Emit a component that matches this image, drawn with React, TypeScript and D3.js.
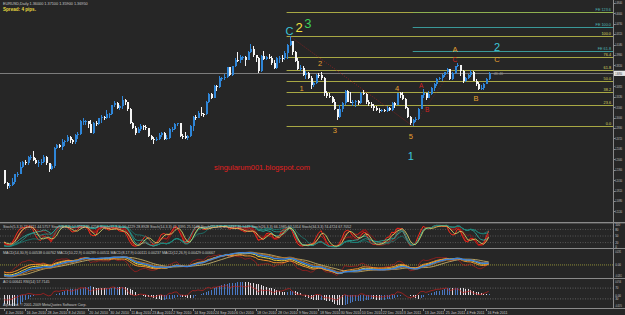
import React, { useEffect } from "react";
import * as d3 from "d3";

// ---------------- data (EURUSD daily, price = 1 + v/10000) ----------------
// warm-up history (late Apr - 3 Jun 2010), used only for indicators
const warmHighs = [3440,3380,3260,3290,3320,3320,3210,3010,2990,2790,3094,2840,2730,2680,2560,2470,2410,2460,2560,2670,2570,2440,2380,2430,2380,2330,2300,2290,2260];
const warmLows = [3330,3150,3110,3160,3220,3160,2970,2850,2523,2620,2740,2630,2600,2540,2340,2310,2150,2230,2360,2480,2330,2300,2170,2200,2240,2230,2110,2180,2150];
const warmCloses = [3375,3170,3180,3240,3295,3205,2995,2855,2630,2753,2782,2677,2637,2560,2358,2385,2225,2382,2537,2570,2341,2359,2209,2370,2270,2280,2224,2250,2170];

// visible bars: 4 Jun 2010 .. 18 Feb 2011
const opens = [2170,1968,1925,1936,1985,2105,2114,2226,2304,2284,
2384,2386,2335,2291,2304,2307,2383,2281,2195,2234,
2516,2566,2541,2621,2626,2690,2640,2609,2730,2748,
2939,2939,2945,2897,2759,2918,2903,2985,3008,2999,
3050,3050,3194,3227,3146,3183,3279,3237,3142,2918,
2837,2754,2812,2867,2845,2831,2711,2670,2649,2661,
2724,2756,2660,2680,2820,2820,2895,2908,2717,2710,
2679,2705,2860,3015,2998,3075,3054,3051,3239,3374,
3311,3492,3488,3615,3628,3633,3791,3666,3803,3910,
3897,3945,3945,3908,4028,4085,3977,3941,3733,3964,
3914,3946,3938,3864,3776,3932,3935,3933,4017,4143,
4197,4033,3887,3759,3786,3672,3697,3620,3510,3537,
3674,3671,3616,3378,3338,3328,3240,3135,3003,3133,
3233,3415,3252,3236,3242,3253,3226,3387,3377,3248,
3210,3184,3144,3125,3105,3118,3104,3153,3112,3222,
3191,3379,3355,3296,3153,3001,2911,2966,2977,3142,
3357,3383,3308,3376,3467,3523,3612,3622,3665,3710,
3766,3603,3697,3804,3819,3731,3581,3615,3666,3723,
3581,3535,3452,3466,3529,3600];
const highs = [2180,1980,1965,2046,2110,2150,2300,2320,2335,2390,
2410,2469,2365,2330,2355,2410,2390,2290,2270,2530,
2590,2590,2660,2640,2720,2710,2670,2740,2770,2955,
2990,2960,2950,2960,2930,2950,3000,3040,3030,3120,
3070,3200,3260,3250,3200,3333,3290,3250,3150,2930,
2870,2850,2900,2890,2890,2840,2730,2690,2700,2750,
2770,2770,2720,2840,2850,2920,2920,2910,2740,2770,
2720,2880,3030,3040,3100,3160,3070,3260,3390,3390,
3510,3510,3650,3640,3680,3800,3800,3810,3930,4030,
3990,3970,3960,4050,4158,4120,3990,3950,3990,4050,
3960,4000,3960,3900,3950,3960,3990,4040,4160,4282,
4210,4050,3930,3820,3810,3730,3720,3650,3560,3690,
3700,3720,3630,3410,3380,3340,3290,3140,3190,3240,
3430,3440,3400,3270,3280,3270,3400,3440,3390,3270,
3250,3210,3180,3150,3140,3130,3180,3170,3240,3240,
3390,3400,3400,3310,3160,3030,2970,3010,3150,3360,
3450,3390,3420,3480,3540,3620,3640,3690,3720,3780,
3770,3710,3810,3862,3830,3740,3630,3690,3740,3730,
3610,3560,3510,3550,3620,3710];
const lows = [1961,1876,1900,1930,1960,2070,2110,2210,2250,2250,
2330,2320,2270,2215,2250,2290,2260,2150,2180,2210,
2500,2520,2490,2560,2610,2600,2580,2590,2660,2730,
2880,2880,2840,2750,2740,2860,2880,2920,2960,2980,
2990,3040,3170,3130,3120,3140,3200,3110,2900,2820,
2730,2750,2790,2810,2810,2700,2640,2590,2630,2640,
2690,2650,2640,2670,2780,2800,2870,2700,2660,2670,
2650,2700,2790,2960,2990,3030,3010,3040,3230,3290,
3300,3420,3460,3580,3590,3620,3650,3650,3790,3880,
3850,3900,3810,3900,4010,3950,3880,3700,3720,3900,
3900,3920,3830,3760,3770,3850,3880,3900,3920,4130,
3990,3870,3740,3730,3660,3610,3600,3450,3480,3520,
3620,3590,3340,3310,3310,3230,3120,2969,2990,3090,
3190,3240,3230,3180,3170,3200,3220,3350,3220,3180,
3150,3100,3110,3070,3080,3090,3090,3100,3100,3150,
3190,3300,3270,3130,2990,2880,2867,2930,2960,3130,
3300,3280,3300,3360,3420,3490,3590,3580,3640,3680,
3590,3590,3690,3790,3660,3550,3560,3600,3640,3570,
3500,3440,3429,3440,3520,3590];
const closes = [1968,1925,1936,1985,2105,2114,2226,2304,2284,2384,
2386,2335,2291,2304,2307,2383,2281,2195,2234,2516,
2566,2541,2621,2626,2690,2640,2609,2730,2748,2939,
2939,2945,2897,2759,2918,2903,2985,3008,2999,3050,
3050,3194,3227,3146,3183,3279,3237,3142,2918,2837,
2754,2812,2867,2845,2831,2711,2670,2649,2661,2724,
2756,2660,2680,2820,2820,2895,2908,2717,2710,2679,
2705,2860,3015,2998,3075,3054,3051,3239,3374,3311,
3492,3488,3615,3628,3633,3791,3666,3803,3910,3897,
3945,3945,3908,4028,4085,3977,3941,3733,3964,3914,
3946,3938,3864,3776,3932,3935,3933,4017,4143,4197,
4033,3887,3759,3786,3672,3697,3620,3510,3537,3674,
3671,3616,3378,3338,3328,3240,3135,3003,3133,3233,
3415,3252,3236,3242,3253,3226,3387,3377,3248,3210,
3184,3144,3125,3105,3118,3104,3153,3112,3222,3191,
3379,3355,3296,3153,3001,2911,2966,2977,3142,3357,
3383,3308,3376,3467,3523,3612,3622,3665,3710,3766,
3603,3697,3804,3819,3731,3581,3615,3666,3723,3581,
3535,3452,3466,3529,3600,3695];

const dateLabels = ["4 Jun 2010","16 Jun 2010","28 Jun 2010","8 Jul 2010","20 Jul 2010","30 Jul 2010","11 Aug 2010","23 Aug 2010","2 Sep 2010","14 Sep 2010","24 Sep 2010","6 Oct 2010","18 Oct 2010","28 Oct 2010","9 Nov 2010","18 Nov 2010","30 Nov 2010","10 Dec 2010","22 Dec 2010","3 Jan 2011","13 Jan 2011","25 Jan 2011","4 Feb 2011","16 Feb 2011"];
const dateBars = [0,8,16,24,32,40,48,56,64,72,80,88,96,104,112,120,128,136,144,152,160,168,176,184];

const priceTicks = [1.4804,1.4640,1.4476,1.4312,1.4148,1.3984,1.3820,1.3492,1.3328,1.3164,1.3000,1.2836,1.2672,1.2508,1.2344,1.2180,1.2016,1.1852,1.1688,1.1524];

// Fibonacci retracement anchors (bar index) and levels
const fibHighBar = 109;
const fibLowBar = 156;
const fibLevels = [0, 23.6, 38.2, 50, 61.8, 76.4, 100];
// Fibonacci expansion: start, A, B bars and levels
const feStartBar = 156, feABar = 173, feBBar = 182;
const feLevels = [61.8, 100, 123.6];

// Elliott wave labels
const waveTexts = ["C","2","3","2","1","3","4","5","A","B","C","A","B","C","2","1"];
const waveBars = [109,112.6,116,120.6,113.6,126.3,150,155.3,159.2,161.5,172.1,172.1,180.2,188.2,188.2,155.3];
const wavePrices = [1.4305,1.4343,1.4410,1.3809,1.3417,1.2757,1.3417,1.2663,1.3464,1.3087,1.3872,1.4029,1.3260,1.3872,1.4050,1.2333];
const waveDegrees = ["cycle","primary","major","minor","minor","minor","minor","minor","minute","minute","minute","minor","minor","minor","interm","interm"];

// ---------------- styles ----------------
const BG = "#262626";
const AXIS = "#8a8a8a";
const TXT = "#c8c8c8";
const BULL = "#2f86d8";
const BEAR = "#f4f4f4";
const FIBC = "#a8a844";
const FEC = "#3a9898";
const FONT = "'Liberation Sans', Arial, sans-serif";
const waveStyle: Record<string, { c: string; s: number }> = {
  cycle: { c: "#3cc7d8", s: 11 },
  primary: { c: "#f2e040", s: 13 },
  major: { c: "#3cd05a", s: 13 },
  interm: { c: "#3cc7d8", s: 11 },
  minor: { c: "#e6a030", s: 7.5 },
  minute: { c: "#d42222", s: 6.5 },
};

// ---------------- helpers ----------------
const P = (v: number) => 1 + v / 10000;
function sma(a: number[], n: number) {
  return a.map((_, i) => {
    const s = Math.max(0, i - n + 1);
    let t = 0;
    for (let k = s; k <= i; k++) t += a[k];
    return t / (i - s + 1);
  });
}
function ema(a: number[], n: number) {
  const k = 2 / (n + 1);
  const out: number[] = [];
  a.forEach((v, i) => out.push(i === 0 ? v : out[i - 1] + k * (v - out[i - 1])));
  return out;
}
function stoch(h: number[], l: number[], c: number[], n: number, slow: number) {
  const raw = c.map((v, i) => {
    const s = Math.max(0, i - n + 1);
    const hh = d3.max(h.slice(s, i + 1)) as number;
    const ll = d3.min(l.slice(s, i + 1)) as number;
    return hh === ll ? 50 : ((v - ll) / (hh - ll)) * 100;
  });
  return sma(raw, slow);
}
function rsi(c: number[], n: number) {
  let ag = 0, al = 0;
  const out = [50];
  for (let i = 1; i < c.length; i++) {
    const ch = c[i] - c[i - 1];
    const g = Math.max(ch, 0), lo = Math.max(-ch, 0);
    const m = Math.min(i, n);
    ag = (ag * (m - 1) + g) / m;
    al = (al * (m - 1) + lo) / m;
    out.push(al === 0 ? 100 : 100 - 100 / (1 + ag / al));
  }
  return out;
}

// ---------------- computations ----------------
const N = closes.length;
const W0 = warmCloses.length;
const allH = [...warmHighs, ...highs].map(P);
const allL = [...warmLows, ...lows].map(P);
const allC = [...warmCloses, ...closes].map(P);
const cut = (a: number[]) => a.slice(W0);

const stochSpecs = [
  { n: 5, c: "#ff2a1a", w: 1 },
  { n: 8, c: "#d81f1a", w: 0.8 },
  { n: 11, c: "#b01818", w: 0.8 },
  { n: 14, c: "#8c1414", w: 0.8 },
  { n: 21, c: "#2fb6a6", w: 0.8 },
  { n: 26, c: "#239a8e", w: 0.8 },
  { n: 34, c: "#1b7c74", w: 0.8 },
];
const stochLines = stochSpecs.map((s) => cut(stoch(allH, allL, allC, s.n, 3)));
const stochD = sma(stochLines[0], 3);

const macdSpecs = [
  { f: 14, s: 30, c: "#b0702a", w: 1 },
  { f: 10, s: 22, c: "#e8d040", w: 1 },
  { f: 8, s: 17, c: "#f0902a", w: 1 },
  { f: 12, s: 26, c: "#3a82dc", w: 1.4 },
];
const macdLines = macdSpecs.map((m) => {
  const ef = ema(allC, m.f), es = ema(allC, m.s);
  return cut(ef.map((v, i) => v - es[i]));
});
const macdMain = macdLines[3];
const macdSignal = sma(macdMain, 9);
const macdFast = cut((() => { const a = ema(allC, 3), b = ema(allC, 10); return a.map((v, i) => v - b[i]); })());

const med = allH.map((h, i) => (h + allL[i]) / 2);
const ao5 = sma(med, 5), ao34 = sma(med, 34);
const aoAll = ao5.map((v, i) => v - ao34[i]);
const ao = cut(aoAll);
const aoPrev = aoAll.slice(W0 - 1, aoAll.length - 1);
const rsiLine = cut(rsi(allC, 14));

// ---------------- scales ----------------
const xs = d3.scaleLinear().domain([0, N - 1]).range([4, 4 + (N - 1) * 2.62]);
const ys = d3.scaleLinear().domain([P(lows[fibLowBar]), P(highs[fibHighBar])]).range([126, 36]);
const yStoch = d3.scaleLinear().domain([0, 100]).range([247, 225]);
const macdAll = [...macdLines.flat(), ...macdFast, ...macdSignal];
const macdExt = d3.extent(macdAll) as [number, number];
const yMacd = d3.scaleLinear().domain(macdExt).range([277, 252]);
const aoExt = d3.extent(ao) as [number, number];
const yAo = d3.scaleLinear().domain(aoExt).range([306, 282]);
const yRsi = d3.scaleLinear().domain([0, 100]).range([307, 280]);

const lineGen = (yScale: (v: number) => number) =>
  d3.line<number>().x((_, i) => xs(i)).y((v) => yScale(v));

const fmt5 = (v: number) => v.toFixed(5);

// right-edge label, horizontally squeezed so it stays inside the 625px window
function RLabel({ y, text, fill = TXT }: { y: number; text: string; fill?: string }) {
  const sx = text.length > 4 ? 0.55 : 0.85;
  return (
    <text transform={`translate(615.2,${Math.max(4, y)}) scale(${sx},1)`} fontSize={3.5} fill={fill}>{text}</text>
  );
}

export default function App() {
  useEffect(() => {
    document.body.style.margin = "0";
    document.body.style.background = BG;
  }, []);

  const last = N - 1;
  const lastC = P(closes[last]);
  const fibLo = P(lows[fibLowBar]), fibHi = P(highs[fibHighBar]);
  const feStart = P(lows[feStartBar]), feA = P(highs[feABar]), feB = P(lows[feBBar]);
  const RX = 613.5;

  const stochHeader = stochSpecs
    .map((s, k) => `Stoch(${s.n},3,3) ${stochLines[k][last].toFixed(4)} ${sma(stochLines[k], 3)[last].toFixed(4)}`)
    .join("  ");
  const macdHeader = macdSpecs
    .map((m, k) => `MACD(${m.f},${m.s},9) ${macdLines[k][last].toFixed(5)} ${sma(macdLines[k], 9)[last].toFixed(5)}`)
    .join("  ");

  return (
    <svg width={625} height={315} style={{ position: "absolute", left: 0, top: 0, display: "block", background: BG }} fontFamily={FONT}>
      <rect x={0} y={0} width={625} height={315} fill={BG} />

      {/* header */}
      <text x={3} y={5} fontSize={3.8} fill={TXT}>
        {`EURUSD,Daily  ${fmt5(P(opens[last]))} ${fmt5(P(highs[last]))} ${fmt5(P(lows[last]))} ${fmt5(lastC)}`}
      </text>
      <text x={3} y={11} fontSize={4.6} fill="#e8d840" fontWeight="bold">Spread: 4 pips.</text>

      {/* fibonacci retracement */}
      {fibLevels.map((lv) => {
        const p = fibLo + (lv / 100) * (fibHi - fibLo);
        return (
          <g key={"f" + lv}>
            <line x1={xs(fibHighBar) - 3} x2={RX} y1={Math.round(ys(p)) + 0.5} y2={Math.round(ys(p)) + 0.5} stroke={FIBC} strokeWidth={1} />
            <text x={611} y={Math.round(ys(p)) - 0.8} fontSize={3.8} fill="#d8d860" textAnchor="end">{lv.toFixed(1)}</text>
          </g>
        );
      })}
      {/* fibonacci expansion */}
      {feLevels.map((lv, k) => {
        const p = feB + (lv / 100) * (feA - feStart);
        const y = Math.round(ys(p)) + 0.5;
        return (
          <g key={"fe" + lv}>
            {k === feLevels.length - 1 && <line x1={xs(fibHighBar) - 3} x2={RX} y1={y} y2={y} stroke={FIBC} strokeWidth={1} />}
            <line x1={xs(feStartBar)} x2={RX} y1={y} y2={y} stroke={k === feLevels.length - 1 ? "#8fb050" : FEC} strokeWidth={1} />
            <text x={611} y={y - 1.3} fontSize={3.8} fill="#4fb8b8" textAnchor="end">{`FE ${lv.toFixed(1)}`}</text>
          </g>
        );
      })}

      {/* bid line */}
      <line x1={0} x2={RX} y1={Math.round(ys(lastC)) + 0.5} y2={Math.round(ys(lastC)) + 0.5} stroke="#7c7c7c" strokeWidth={1} />

      {/* red dotted trend lines */}
      <line x1={xs(fibHighBar)} y1={ys(fibHi)} x2={xs(fibLowBar)} y2={ys(fibLo)} stroke="#b02020" strokeWidth={0.7} strokeDasharray="1,1.5" />
      <line x1={xs(fibLowBar)} y1={ys(fibLo)} x2={xs(feABar)} y2={ys(feA)} stroke="#b02020" strokeWidth={0.6} strokeDasharray="1,1.5" opacity={0.7} />

      {/* candles */}
      <g shapeRendering="crispEdges">
        {closes.map((c, i) => {
          const o = P(opens[i]), cl = P(c), h = P(highs[i]), l = P(lows[i]);
          const up = cl >= o;
          const col = up ? BULL : BEAR;
          const x = Math.round(xs(i));
          const top = Math.min(ys(o), ys(cl));
          const hh = Math.max(1, Math.abs(ys(o) - ys(cl)));
          return (
            <g key={i}>
              <rect x={x} y={ys(h)} width={1} height={Math.max(1, ys(l) - ys(h))} fill={col} />
              <rect x={x - 0.5} y={top} width={2} height={hh} fill={col} />
            </g>
          );
        })}
      </g>

      {/* wave labels */}
      {waveTexts.map((t, k) => {
        const st = waveStyle[waveDegrees[k]];
        return (
          <text key={"w" + k} x={xs(waveBars[k])} y={ys(wavePrices[k])} fontSize={st.s} fill={st.c} textAnchor="middle">{t}</text>
        );
      })}
      <text x={xs(last) + 5} y={ys(lastC) + 2} fontSize={3.8} fill="#9a9a9a">46.46</text>

      {/* watermark */}
      <text x={262} y={170} fontSize={7.5} fill="#e02020" textAnchor="middle">singularum001.blogspot.com</text>

      {/* panel separators */}
      {[222.5, 248.5, 278.5, 308.5].map((y) => (
        <line key={"s" + y} x1={0} x2={625} y1={y} y2={y} stroke={AXIS} strokeWidth={1} />
      ))}
      <line x1={0} x2={625} y1={223.5} y2={223.5} stroke="#4a4a4a" strokeWidth={1} />

      {/* stochastic panel */}
      {[80, 50, 20].map((lv) => (
        <line key={"sl" + lv} x1={0} x2={RX} y1={yStoch(lv)} y2={yStoch(lv)} stroke="#777" strokeWidth={0.6} strokeDasharray="1,1.5" />
      ))}
      {stochLines.map((ln, k) => (
        <path key={"st" + k} d={lineGen(yStoch)(ln) || ""} fill="none" stroke={stochSpecs[k].c} strokeWidth={stochSpecs[k].w} />
      ))}
      <path d={lineGen(yStoch)(stochD) || ""} fill="none" stroke="#dede6a" strokeWidth={0.8} />
      <text x={3} y={228} fontSize={3.6} fill={TXT}>{stochHeader}</text>
      {[100, 80, 50, 20, 0].map((lv) => (
        <RLabel key={"stl" + lv} y={yStoch(lv) + 1.3} text={String(lv)} />
      ))}

      {/* MACD panel */}
      <line x1={0} x2={RX} y1={yMacd(0)} y2={yMacd(0)} stroke="#b8b840" strokeWidth={0.7} strokeDasharray="1,1" />
      <path d={lineGen(yMacd)(macdFast) || ""} fill="none" stroke="#b01c1c" strokeWidth={0.7} />
      <path d={lineGen(yMacd)(macdSignal) || ""} fill="none" stroke="#d8c070" strokeWidth={0.8} />
      {macdLines.map((ln, k) => (
        <path key={"m" + k} d={lineGen(yMacd)(ln) || ""} fill="none" stroke={macdSpecs[k].c} strokeWidth={macdSpecs[k].w} />
      ))}
      <text x={3} y={254} fontSize={3.6} fill={TXT}>{macdHeader}</text>
      <RLabel y={253} text={macdExt[1].toFixed(4)} />
      <RLabel y={yMacd(0) + 1.3} text="0.00" />
      <RLabel y={276.5} text={macdExt[0].toFixed(4)} />

      {/* AO + RSI panel */}
      {[70, 30].map((lv) => (
        <line key={"rl" + lv} x1={0} x2={RX} y1={yRsi(lv)} y2={yRsi(lv)} stroke="#888" strokeWidth={0.6} strokeDasharray="1,1.5" />
      ))}
      <g shapeRendering="crispEdges">
        {ao.map((v, i) => (
          <line key={"ao" + i} x1={Math.round(xs(i)) + 0.5} x2={Math.round(xs(i)) + 0.5} y1={yAo(0)} y2={yAo(v)} stroke={v > aoPrev[i] ? "#4a78c4" : "#e4dce4"} strokeWidth={1} />
        ))}
      </g>
      <path d={lineGen(yRsi)(rsiLine) || ""} fill="none" stroke="#c42020" strokeWidth={0.7} />
      <text x={3} y={283} fontSize={3.6} fill={TXT}>{`AO ${ao[last].toFixed(5)}  RSI(14) ${rsiLine[last].toFixed(4)}`}</text>
      <RLabel y={283} text={aoExt[1].toFixed(4)} />
      <RLabel y={yRsi(70) + 1.3} text="70" />
      <RLabel y={yAo(0) + 1.3} text="0.00" />
      <RLabel y={yRsi(30) + 1.3} text="30" />
      <RLabel y={307} text={aoExt[0].toFixed(4)} />
      <text x={3} y={306} fontSize={3.6} fill={TXT}>Alpari Ltd. © 2001-2009 MetaQuotes Software Corp.</text>

      {/* right price axis */}
      <line x1={RX} x2={RX} y1={0} y2={309} stroke={AXIS} strokeWidth={1} />
      {priceTicks.map((p) => (
        <g key={"pt" + p}>
          <line x1={RX} x2={RX + 2} y1={Math.round(ys(p)) + 0.5} y2={Math.round(ys(p)) + 0.5} stroke={AXIS} />
          <RLabel y={ys(p) + 1.4} text={p.toFixed(5)} />
        </g>
      ))}
      <rect x={614} y={ys(lastC) - 2.6} width={11} height={5.2} fill="#e8e8e8" />
      <RLabel y={ys(lastC) + 1.4} text={fmt5(lastC)} fill="#202020" />

      {/* date axis */}
      {dateBars.map((b, k) => (
        <g key={"d" + b}>
          <line x1={Math.round(xs(b)) + 0.5} x2={Math.round(xs(b)) + 0.5} y1={308.5} y2={311} stroke={AXIS} />
          <text x={xs(b) + 1.5} y={313.5} fontSize={3.6} fill={TXT}>{dateLabels[k]}</text>
        </g>
      ))}
    </svg>
  );
}
